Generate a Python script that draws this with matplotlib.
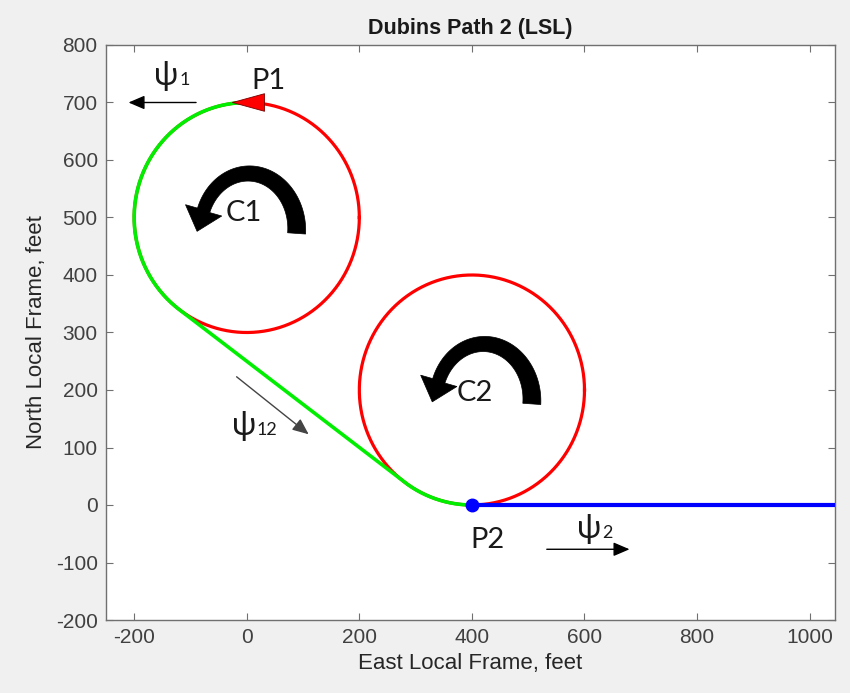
import numpy as np
import matplotlib
matplotlib.use("Agg")
import matplotlib.pyplot as plt
from matplotlib.patches import Polygon

# ---------------- data ----------------
title = "Dubins Path 2 (LSL)"
xlabel = "East Local Frame, feet"
ylabel = "North Local Frame, feet"
x_ticks = [-200, 0, 200, 400, 600, 800, 1000]
y_ticks = [-200, -100, 0, 100, 200, 300, 400, 500, 600, 700, 800]
x_lim = [-250, 1045]
y_lim = [-200, 800]

radius = 200
c1_center = [0, 500]
c2_center = [400, 200]
p1 = [0, 700]
p2 = [400, 0]
final_x_end = 1050

# tangent angles (deg) of the LSL path on each circle
c1_start_deg, c1_end_deg = 90, 233.13
c2_start_deg, c2_end_deg = 233.13, 270

# annotation arrows (data coords)
psi1_arrow = [(-90, 700), (-210, 700)]
psi12_arrow = [(-18, 223), (110, 123)]
psi2_arrow = [(533, -77), (680, -77)]

# ---------------- figure ----------------
plt.rcParams['font.family'] = ['Liberation Sans', 'DejaVu Sans']
plt.rcParams['axes.unicode_minus'] = False
W, H = 850, 693
fig = plt.figure(figsize=(W / 100, H / 100), dpi=100, facecolor='#f0f0f0')
ax = fig.add_axes([106 / W, 73 / H, (835 - 106) / W, (620 - 45) / H])
ax.set_facecolor('white')
ax.set_xlim(x_lim)
ax.set_ylim(y_lim)

tick_col = '#404040'
spine_col = '#707070'
for s in ax.spines.values():
    s.set_color(spine_col)
    s.set_linewidth(1.0)
ax.set_xticks(x_ticks)
ax.set_yticks(y_ticks)
ax.tick_params(direction='in', length=5, width=0.8, color=spine_col,
               top=True, right=True, labelsize=15, labelcolor=tick_col, pad=6)
ax.set_title(title, fontsize=15.5, fontweight='bold', color='#1a1a1a', pad=8)
ax.set_xlabel(xlabel, fontsize=16, color='#262626', labelpad=4)
ax.set_ylabel(ylabel, fontsize=16, color='#262626', labelpad=6)

# full circles (red)
th = np.linspace(0, 2 * np.pi, 400)
for c in (c1_center, c2_center):
    ax.plot(c[0] + radius * np.cos(th), c[1] + radius * np.sin(th),
            color='#ff0000', lw=2.3, zorder=2)

# green path: arc on C1, straight, arc on C2
a1 = np.radians(np.linspace(c1_start_deg, c1_end_deg, 200))
a2 = np.radians(np.linspace(c2_start_deg, c2_end_deg, 100))
gx = np.concatenate([c1_center[0] + radius * np.cos(a1), c2_center[0] + radius * np.cos(a2)])
gy = np.concatenate([c1_center[1] + radius * np.sin(a1), c2_center[1] + radius * np.sin(a2)])
ax.plot(gx, gy, color='#00ee00', lw=2.6, zorder=3, solid_capstyle='round')

# final blue segment
ax.plot([p2[0], final_x_end], [p2[1], p2[1]], color='#0000ff', lw=3.0, zorder=3,
        clip_on=True)
ax.plot([p2[0]], [p2[1]], 'o', color='#0000ff', ms=9, zorder=5)

# red triangle at P1 pointing left
tri = [(-1, 0), (1, 0.55), (1, -0.55), (-1, 0)]
ax.plot([p1[0] + 3], [p1[1]], marker=tri, ms=23, color='#ff0000',
        markeredgecolor='#7a0000', markeredgewidth=0.6, zorder=6)

# curved thick arrows (pixel based geometry)
def curved_arrow(center, off_px, rx=48, ry=56, h0=9, h1=6.5, t0=-4, t1=160,
                 head_half=19, head_len=22):
    cx, cy = ax.transData.transform(center)
    cx += off_px[0]
    cy -= off_px[1]
    t = np.radians(np.linspace(t0, t1, 120))
    h = np.linspace(h0, h1, t.size)
    outer = np.c_[cx + (rx + h) * np.cos(t), cy + (ry + h) * np.sin(t)]
    inner = np.c_[cx + (rx - h) * np.cos(t), cy + (ry - h) * np.sin(t)]
    te = t[-1]
    mid = np.array([cx + rx * np.cos(te), cy + ry * np.sin(te)])
    nrm = np.array([np.cos(te) / rx, np.sin(te) / ry])
    nrm /= np.linalg.norm(nrm)
    tan = np.array([-rx * np.sin(te), ry * np.cos(te)])
    tan /= np.linalg.norm(tan)
    head = [mid + nrm * head_half, mid + tan * head_len, mid - nrm * head_half]
    pts = np.vstack([outer, head, inner[::-1]])
    pts_data = ax.transData.inverted().transform(pts)
    ax.add_patch(Polygon(pts_data, closed=True, facecolor='black',
                         edgecolor='black', lw=0.5, zorder=4))

curved_arrow(c1_center, (2, 12))
curved_arrow(c2_center, (12, 10))

# text annotations
afam = ['Lato', 'Open Sans', 'DejaVu Sans']
tcol = '#1a1a1a'
ax.text(-5, 508, 'C1', fontsize=21, family=afam, color=tcol, ha='center', va='center', zorder=7)
ax.text(406, 195, 'C2', fontsize=21, family=afam, color=tcol, ha='center', va='center', zorder=7)
ax.text(39, 737, 'P1', fontsize=21, family=afam, color=tcol, ha='center', va='center', zorder=7)
ax.text(428, -60, 'P2', fontsize=21, family=afam, color=tcol, ha='center', va='center', zorder=7)

def psi(x, y, sub, dx):
    ax.text(x, y, 'ψ', fontsize=23, family=afam, color=tcol, ha='left', va='baseline', zorder=7)
    ax.text(x + dx, y, sub, fontsize=13, family=afam, color=tcol, ha='left', va='baseline', zorder=7)

psi(-165, 730, '1', 46)
psi(-27, 122, '12', 45)
psi(586, -58, '2', 45)

def thin_arrow(a, lc):
    ax.annotate('', xy=a[1], xytext=a[0],
                arrowprops=dict(arrowstyle='-|>,head_length=0.7,head_width=0.3',
                                color=lc, lw=1.0, shrinkA=0, shrinkB=0,
                                mutation_scale=14), zorder=7)

thin_arrow(psi1_arrow, 'black')
thin_arrow(psi12_arrow, '#444444')
thin_arrow(psi2_arrow, 'black')

fig.savefig('out.png', dpi=100, facecolor=fig.get_facecolor())
